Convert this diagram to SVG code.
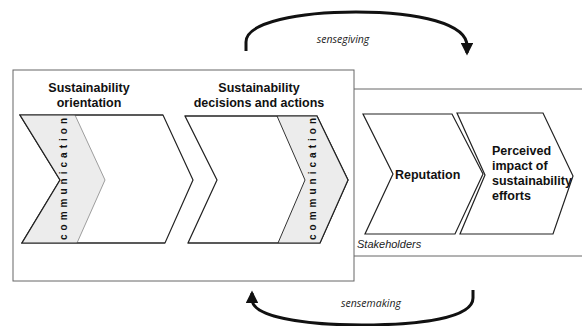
<svg xmlns="http://www.w3.org/2000/svg" width="582" height="326" viewBox="0 0 582 326">
  <style>
    .frame { fill: none; stroke: #666; stroke-width: 1; }
    .chev { fill: #fff; stroke: #222; stroke-width: 1.2; stroke-linejoin: miter; }
    .edge { fill: none; stroke: #222; stroke-width: 1.2; stroke-linejoin: miter; }
    .band { fill: #ececec; stroke: none; }
    .inner { fill: none; stroke: #777; stroke-width: 0.7; }
    .innerdark { fill: none; stroke: #333; stroke-width: 1; }
    .head { font-family: "Liberation Sans", Arial, sans-serif; font-weight: bold; font-size: 12.5px; fill: #111; text-anchor: middle; }
    .lbl { font-family: "Liberation Sans", Arial, sans-serif; font-weight: bold; font-size: 12.5px; fill: #111; }
    .comm { font-family: "Liberation Sans", Arial, sans-serif; font-weight: bold; font-size: 10px; fill: #111; }
    .ital { font-family: "Liberation Sans", Arial, sans-serif; font-style: italic; font-size: 11px; fill: #222; }
    .sense { font-family: "Open Sans", "Liberation Sans", sans-serif; font-style: italic; font-size: 10.5px; fill: #222; text-anchor: middle; }
    .loop { fill: none; stroke: #111; stroke-width: 3; }
  </style>
  <defs>
    <marker id="head" viewBox="0 0 10 10" refX="8" refY="5" markerWidth="4.2" markerHeight="4.2" orient="auto" markerUnits="strokeWidth">
      <path d="M0,0 L10,5 L0,10 Z" fill="#111"/>
    </marker>
  </defs>

  <rect width="582" height="326" fill="#fff"/>

  <!-- organisation frame and stakeholder frame -->
  <g id="organisation">
    <rect class="frame" x="13" y="70" width="341" height="211"/>
    <text class="head" x="89" y="92">Sustainability</text>
    <text class="head" x="89" y="107">orientation</text>
    <text class="head" x="259" y="92">Sustainability</text>
    <text class="head" x="259" y="107">decisions and actions</text>
  </g>
  <g id="stakeholders">
    <path class="frame" d="M354,89 H590 M354,256 H590"/>
    <text class="ital" x="357" y="248">Stakeholders</text>
  </g>

  <!-- chevron 1: sustainability orientation, communication band on the left -->
  <g id="orientation">
    <path class="chev" d="M20,115 L163,115 L193,180 L165,243 L22,243 L60,180 Z"/>
    <path class="band" d="M20,115 L75,115 L105,180 L77,243 L22,243 L60,180 Z"/>
    <path class="inner" d="M75,115 L105,180 L77,243"/>
    <path class="edge" d="M163,115 L20,115 L60,180 L22,243 L165,243"/>
    <text class="comm" transform="translate(67,240) rotate(-90)" textLength="122" lengthAdjust="spacing">communication</text>
  </g>

  <!-- chevron 2: decisions and actions, communication band on the right -->
  <g id="decisions">
    <path class="chev" d="M185,116 L317,116 L348,180 L320,243 L188,243 L217,180 Z"/>
    <path class="band" d="M277,116 L317,116 L348,180 L320,243 L278,243 L305,180 Z"/>
    <path class="innerdark" d="M277,116 L305,180 L278,243"/>
    <path class="edge" d="M185,116 L317,116 L348,180 L320,243 L188,243"/>
    <text class="comm" transform="translate(316,240) rotate(-90)" textLength="122" lengthAdjust="spacing">communication</text>
  </g>

  <!-- chevron 3: reputation -->
  <g id="reputation">
    <path class="chev" d="M363,114 L452,114 L483,174 L455,234 L365,234 L393,174 Z"/>
    <text class="lbl" x="395" y="179">Reputation</text>
  </g>

  <!-- chevron 4: perceived impact -->
  <g id="impact">
    <path class="chev" d="M457,113 L543,113 L573,176 L553,234 L460,234 L485,175 Z"/>
    <text class="lbl" x="492" y="155">Perceived</text>
    <text class="lbl" x="492" y="170">impact of</text>
    <text class="lbl" x="492" y="185">sustainability</text>
    <text class="lbl" x="492" y="200">efforts</text>
  </g>

  <!-- feedback loops -->
  <g id="connectors">
    <path class="loop" marker-end="url(#head)" d="M246,51 L246,42 C246,22 300,12 356,12 C420,12 467,24 467,46 L467,53"/>
    <path class="loop" marker-end="url(#head)" d="M473,290 L473,298 C473,318 420,325 362,325 C300,325 253,316 252,300 L252,293"/>
    <text class="sense" x="343" y="43">sensegiving</text>
    <text class="sense" x="371" y="307">sensemaking</text>
  </g>
</svg>
